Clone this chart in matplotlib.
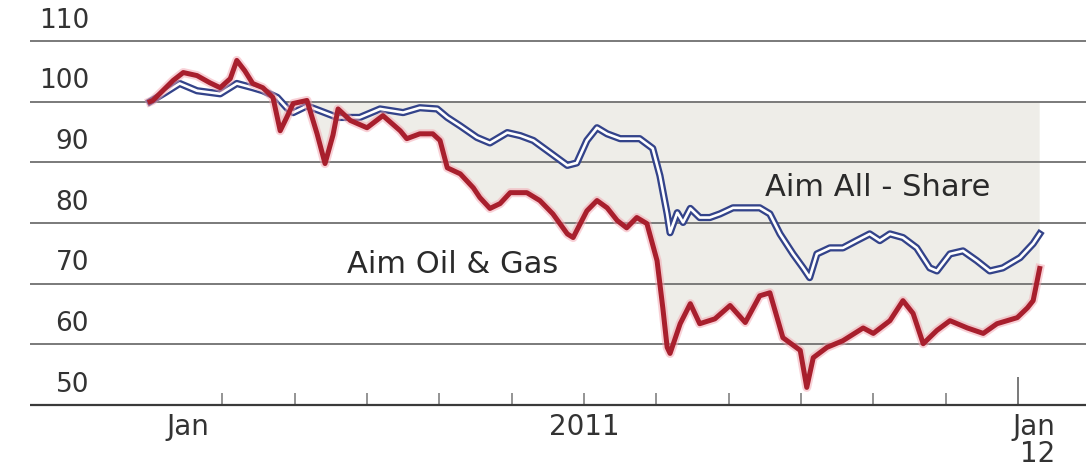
import matplotlib
matplotlib.use("Agg")
import matplotlib.pyplot as plt
import numpy as np

# x values in months since 1 Jan 2011
oil_x = [0.00, 0.04, 0.32, 0.46, 0.65, 0.83, 0.97, 1.11, 1.20, 1.31, 1.42, 1.56, 1.70, 1.80,
         1.89, 1.98, 2.17, 2.31, 2.42, 2.53, 2.60, 2.77, 3.00, 3.22, 3.46, 3.55, 3.73, 3.91,
         4.01, 4.11, 4.29, 4.47, 4.56, 4.70, 4.84, 4.98, 5.21, 5.39, 5.57, 5.77, 5.85, 6.04,
         6.18, 6.32, 6.46, 6.59, 6.73, 6.87, 7.01, 7.09, 7.15, 7.19, 7.33, 7.47, 7.60, 7.81,
         8.02, 8.23, 8.43, 8.57, 8.75, 8.99, 9.08, 9.17, 9.36, 9.58, 9.86, 10.00, 10.23, 10.41,
         10.55, 10.69, 10.88, 11.06, 11.30, 11.52, 11.71, 11.99, 12.13, 12.21, 12.30]
oil_y = [100.0, 100.2, 103.5, 104.8, 104.3, 103.1, 102.3, 103.8, 106.8, 105.1, 103.0, 102.3, 100.7, 95.2,
         97.4, 99.7, 100.2, 94.7, 89.8, 94.5, 98.8, 96.9, 95.7, 97.7, 95.2, 93.9, 94.7, 94.7,
         93.6, 89.1, 88.1, 85.8, 84.2, 82.4, 83.2, 85.0, 85.0, 83.7, 81.5, 78.2, 77.6, 82.0,
         83.7, 82.5, 80.4, 79.2, 80.9, 79.9, 73.8, 66.0, 59.5, 58.5, 63.4, 66.7, 63.4, 64.2,
         66.4, 63.6, 68.0, 68.5, 61.1, 59.0, 52.9, 57.8, 59.5, 60.6, 62.7, 61.8, 63.9, 67.2,
         65.1, 60.1, 62.3, 63.9, 62.7, 61.8, 63.4, 64.4, 66.0, 67.2, 72.5]

all_x = [0.00, 0.21, 0.41, 0.65, 0.97, 1.20, 1.42, 1.56, 1.76, 1.89, 1.98, 2.17, 2.35, 2.59,
         2.90, 3.18, 3.50, 3.73, 3.97, 4.11, 4.29, 4.52, 4.70, 4.94, 5.12, 5.30, 5.53, 5.77,
         5.90, 6.04, 6.18, 6.32, 6.50, 6.77, 6.95, 7.05, 7.15, 7.19, 7.29, 7.37, 7.47, 7.60,
         7.74, 7.88, 8.06, 8.25, 8.43, 8.57, 8.71, 8.89, 9.03, 9.12, 9.22, 9.40, 9.58, 9.77,
         9.95, 10.09, 10.23, 10.41, 10.60, 10.78, 10.88, 11.06, 11.24, 11.43, 11.61, 11.79,
         12.03, 12.21, 12.30]
all_y = [100.0, 101.5, 103.0, 101.8, 101.3, 103.0, 102.3, 101.8, 100.7, 99.0, 98.2, 99.3, 98.5, 97.4,
         97.4, 98.8, 98.2, 99.0, 98.8, 97.4, 96.0, 94.1, 93.2, 94.9, 94.4, 93.6, 91.6, 89.5,
         89.9, 93.6, 95.7, 94.7, 93.9, 93.9, 92.3, 87.8, 81.5, 78.4, 81.7, 80.1, 82.4, 80.9,
         80.9, 81.5, 82.5, 82.5, 82.5, 81.5, 78.2, 74.9, 72.6, 71.0, 74.9, 75.9, 75.9, 77.1,
         78.2, 77.1, 78.2, 77.6, 75.9, 72.6, 72.1, 74.9, 75.4, 73.8, 72.1, 72.6,
         74.3, 76.6, 78.2]

y_ticks = [50, 60, 70, 80, 90, 100, 110]
y_labels = ["50", "60", "70", "80", "90", "100", "110"]
minor_months = [1, 2, 3, 4, 5, 6, 7, 8, 9, 10, 11]
major_months = [12]
x_labels = [("Jan", 0.53, "center"), ("2011", 6.0, "center"), ("Jan\n12", 12.52, "right")]

fig = plt.figure(figsize=(10.86, 4.68), dpi=100)
ax = fig.add_axes([0, 63 / 468, 1, 364 / 468])
x0, x1 = -150 / 72.33, 936 / 72.33
ax.set_xlim(x0, x1)
ax.set_ylim(50, 110)
for s in ax.spines.values():
    s.set_visible(False)

gx0 = -120 / 72.33
# shaded area between rebased 100 and Oil & Gas
ox = np.array(oil_x)
oy = np.array(oil_y)
ax.fill_between(ox, oy, 100, where=oy < 100, interpolate=True, color="#eeede8", lw=0, zorder=1)

for v in y_ticks[1:]:
    ax.hlines(v, gx0, x1, color="#7a7a7a", lw=1.4, zorder=2, clip_on=False)
ax.hlines(50, gx0, x1, color="#3a3a3a", lw=1.6, zorder=2, clip_on=False)

ax.set_xticks(major_months)
ax.set_xticks(minor_months, minor=True)
ax.tick_params(axis="x", which="major", direction="in", length=20, width=1.1, color="#555",
               labelbottom=False)
ax.tick_params(axis="x", which="minor", direction="in", length=8.5, width=1.1, color="#777")
ax.set_yticks([])

# y labels
for v, lab in zip(y_ticks, y_labels):
    ax.text(89 / 1086, v + 1.2, lab, transform=ax.get_yaxis_transform(), ha="right",
            va="bottom", fontsize=19, color="#333333", family="DejaVu Sans")

# lines
ax.plot(all_x, all_y, color="#33438a", lw=5.2, solid_joinstyle="round", zorder=4)
ax.plot(all_x, all_y, color="white", lw=1.9, solid_joinstyle="round", zorder=5)
ax.plot(oil_x, oil_y, color="#f2a3ae", lw=6.5, alpha=0.5, solid_joinstyle="round", zorder=6)
ax.plot(oil_x, oil_y, color="#a81f2d", lw=3.6, solid_joinstyle="round", zorder=7)

ax.text(8.50, 84.5, "Aim All - Share", fontsize=22, color="#2a2a2a", ha="left", va="baseline", zorder=8)
ax.text(2.72, 71.8, "Aim Oil & Gas", fontsize=22, color="#2a2a2a", ha="left", va="baseline", zorder=8)

for lab, xm, ha in x_labels:
    ax.text(xm, 48.6, lab, fontsize=20, color="#333333", ha=ha, va="top", multialignment="right",
            linespacing=0.95)

fig.savefig("out.png", dpi=100)
